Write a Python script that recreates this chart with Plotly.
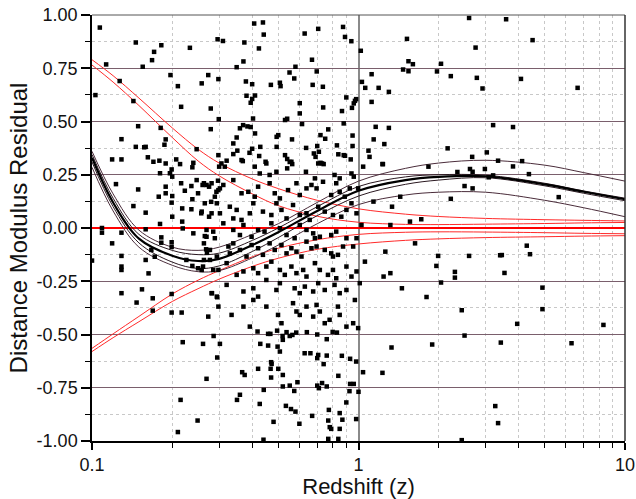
import plotly.graph_objects as go

# Supernova sample: (redshift z, distance modulus residual)
sn_points = [
    # low redshift, upper half
    (0.107, 0.941), (0.103, 0.624), (0.113, 0.768), (0.127, 0.69), (0.146, 0.871), (0.143, 0.596),
    (0.129, 0.417), (0.149, 0.478), (0.146, 0.381), (0.157, 0.379), (0.159, 0.381), (0.155, 0.757),
    (0.168, 0.788), (0.171, 0.827), (0.182, 0.858), (0.181, 0.47), (0.187, 0.391), (0.189, 0.416),
    (0.197, 0.718), (0.210, 0.666), (0.216, 0.569), (0.233, 0.846), (0.258, 0.679), (0.273, 0.718),
    (0.279, 0.561), (0.279, 0.464), (0.247, 0.37), (0.296, 0.886), (0.298, 0.699), (0.299, 0.511),
    (0.298, 0.342), (0.119, 0.322), (0.129, 0.322), (0.162, 0.332), (0.170, 0.311), (0.179, 0.316),
    (0.189, 0.303), (0.199, 0.275), (0.207, 0.322), (0.24, 0.306), (0.238, 0.285),
    # intermediate redshift, upper half
    (0.406, 0.96), (0.438, 0.965), (0.441, 0.908), (0.310, 0.878), (0.373, 0.871), (0.423, 0.843),
    (0.370, 0.782), (0.349, 0.755), (0.378, 0.688), (0.399, 0.675), (0.469, 0.672), (0.507, 0.682),
    (0.51, 0.666), (0.551, 0.730), (0.58, 0.757), (0.574, 0.702), (0.628, 0.913), (0.706, 0.935),
    (0.669, 0.79), (0.697, 0.735), (0.673, 0.672), (0.735, 0.663), (0.875, 0.944), (0.89, 0.897),
    (0.94, 0.877), (1.02, 0.832), (0.380, 0.621), (0.399, 0.606), (0.409, 0.622), (0.394, 0.588),
    (0.602, 0.586), (0.602, 0.538), (0.737, 0.566), (0.90, 0.613), (0.867, 0.549), (0.945, 0.564),
    (0.96, 0.585), (0.97, 0.597), (0.98, 0.605), (1.03, 0.686), (1.06, 0.658), (1.12, 0.722),
    (1.19, 0.658), (1.30, 0.639), (1.12, 0.592), (1.47, 0.744), (1.54, 0.736), (1.60, 0.769),
    (1.54, 0.783), (1.52, 0.888), (0.402, 0.514), (0.53, 0.507), (0.54, 0.513), (0.614, 0.488),
    (0.77, 0.463), (0.88, 0.491), (0.359, 0.468), (0.369, 0.483), (0.383, 0.477), (0.394, 0.474),
    (0.409, 0.444), (0.349, 0.425), (0.339, 0.397), (0.351, 0.363), (0.339, 0.347), (0.368, 0.314),
    (0.399, 0.372), (0.39, 0.353), (0.424, 0.338), (0.428, 0.381), (0.448, 0.311), (0.493, 0.428),
    (0.5, 0.436), (0.493, 0.381), (0.563, 0.416), (0.53, 0.342), (0.54, 0.324), (0.552, 0.31),
    (0.564, 0.30), (0.636, 0.376), (0.68, 0.35), (0.7, 0.385), (0.71, 0.358), (0.69, 0.334),
    (0.72, 0.306), (0.73, 0.303), (0.72, 0.436), (0.75, 0.419), (0.83, 0.388), (0.84, 0.346),
    (0.88, 0.342), (0.89, 0.339), (0.95, 0.434), (0.95, 0.385), (0.935, 0.322), (1.09, 0.363),
    (1.10, 0.334), (1.14, 0.416), (1.16, 0.475), (1.30, 0.47), (1.25, 0.394), (1.23, 0.30),
    (0.3, 0.288), (0.32, 0.316),
    # high redshift
    (2.6, 0.986), (3.58, 0.98), (4.5, 0.882), (2.75, 0.847), (2.04, 0.771), (1.97, 0.735),
    (2.22, 0.713), (2.78, 0.705), (2.92, 0.655), (4.07, 0.70), (6.64, 0.658), (3.2, 0.483),
    (3.8, 0.474), (2.16, 0.374), (2.67, 0.334), (3.03, 0.355), (3.34, 0.316), (4.11, 0.314),
    (3.8, 0.289), (1.83, 0.288), (2.62, 0.277), (2.98, 0.277), (2.35, 0.263), (2.68, 0.264),
    (4.36, 0.253), (3.08, 0.238), (3.2, 0.247), (2.5, 0.197), (2.68, 0.186), (2.22, 0.137),
    (5.64, 0.145), (1.72, 0.041), (1.99, -0.131), (1.96, -0.178), (2.04, -0.256), (2.6, -0.131),
    (2.3, -0.206), (2.3, -0.233), (3.4, -0.128), (3.45, -0.127), (3.53, -0.211), (4.28, -0.083),
    (4.4, -0.123), (4.9, -0.28), (4.9, -0.381), (1.8, -0.324), (2.44, -0.386), (3.94, -0.45),
    (8.3, -0.455), (1.89, -0.547), (2.5, -0.505), (3.42, -0.538), (6.3, -0.541), (3.26, -0.836),
    (3.34, -0.916), (2.44, -0.996),
    # intermediate redshift, lower half
    (0.286, -0.507), (0.261, -0.544), (0.302, -0.544), (0.295, -0.608), (0.269, -0.708),
    (0.418, -0.486), (0.458, -0.497), (0.467, -0.497), (0.495, -0.482), (0.519, -0.507),
    (0.537, -0.489), (0.565, -0.502), (0.584, -0.491), (0.64, -0.489), (0.70, -0.50), (0.80, -0.488),
    (0.83, -0.491), (0.428, -0.544), (0.458, -0.552), (0.497, -0.557), (0.507, -0.58), (0.52, -0.525),
    (0.552, -0.507), (0.628, -0.588), (0.66, -0.588), (0.70, -0.611), (0.706, -0.596), (0.76, -0.599),
    (0.76, -0.522), (0.866, -0.60), (0.93, -0.614), (0.98, -0.627), (0.366, -0.677), (0.374, -0.69),
    (0.42, -0.661), (0.47, -0.63), (0.472, -0.638), (0.468, -0.661), (0.47, -0.702), (0.5, -0.661),
    (0.52, -0.69), (0.59, -0.724), (0.70, -0.74), (0.71, -0.752), (0.73, -0.728), (0.76, -0.744),
    (0.74, -0.639), (0.84, -0.694), (0.93, -0.732), (0.96, -0.732), (1.04, -0.677), (0.925, -0.766),
    (1.0, -0.769), (1.23, -0.68), (1.33, -0.561), (0.35, -0.807), (0.359, -0.783), (0.426, -0.826),
    (0.441, -0.76), (0.48, -0.91), (0.52, -0.744), (0.552, -0.74), (0.574, -0.765), (0.534, -0.835),
    (0.558, -0.85), (0.58, -0.862), (0.60, -0.919), (0.67, -0.882), (0.774, -0.854), (0.77, -0.904),
    (0.78, -0.935), (0.79, -0.943), (0.85, -0.869), (0.87, -0.90), (0.85, -0.943), (0.90, -0.819),
    (0.98, -0.897), (0.84, -0.99), (0.77, -0.99), (0.44, -0.994),
    (0.219, -0.536), (0.215, -0.807), (0.249, -0.904), (0.21, -0.958),
    # low redshift, around zero
    (0.10, -0.153), (0.109, 0.0), (0.109, -0.022), (0.123, 0.206), (0.119, -0.072), (0.129, -0.022),
    (0.129, -0.131), (0.129, -0.181), (0.129, -0.197), (0.129, -0.306), (0.143, 0.103), (0.149, 0.181),
    (0.159, 0.072), (0.159, -0.006), (0.159, -0.15), (0.163, -0.213), (0.154, -0.288), (0.147, -0.35),
    (0.169, -0.33), (0.169, -0.388), (0.18, 0.019), (0.182, -0.044), (0.182, -0.069), (0.189, 0.194),
    (0.189, 0.163), (0.18, 0.257), (0.178, 0.147), (0.196, 0.257), (0.2, 0.241), (0.2, 0.15),
    (0.199, 0.119), (0.2, 0.053), (0.199, -0.067), (0.199, -0.089), (0.199, -0.31), (0.199, -0.397),
    (0.217, -0.397), (0.218, 0.092), (0.218, 0.03), (0.219, -0.002), (0.214, 0.30), (0.216, 0.21),
    (0.223, 0.175), (0.236, 0.197), (0.236, 0.088), (0.238, 0.135), (0.24, -0.025), (0.247, 0.225),
    (0.25, 0.163), (0.257, 0.069), (0.263, 0.21), (0.265, -0.038), (0.269, -0.009), (0.275, 0.194),
    (0.275, 0.053), (0.28, 0.123), (0.289, 0.147), (0.289, -0.048), (0.293, 0.17), (0.297, 0.222),
    (0.302, 0.186), (0.226, -0.15), (0.238, -0.178), (0.25, -0.189), (0.258, -0.197), (0.268, -0.1),
    (0.27, -0.116), (0.277, -0.15), (0.282, -0.306), (0.295, -0.325), (0.285, -0.197), (0.167, -0.103),
    (0.172, -0.135),
    # dense band, 0.25 < z < 1.7
    (0.306, 0.303), (0.315, 0.288), (0.364, 0.319), (0.408, 0.288), (0.426, 0.256), (0.451, 0.303),
    (0.464, 0.249), (0.492, 0.264), (0.540, 0.280), (0.560, 0.311), (0.635, 0.264), (0.686, 0.233),
    (0.706, 0.303), (0.740, 0.300), (0.813, 0.249), (0.850, 0.233), (0.941, 0.256), (0.960, 0.241),
    (1.041, 0.288), (1.235, 0.300),
    (0.260, 0.202), (0.269, 0.202), (0.281, 0.210), (0.298, 0.178), (0.311, 0.202), (0.339, 0.225),
    (0.364, 0.163), (0.386, 0.170), (0.408, 0.147), (0.420, 0.194), (0.464, 0.210), (0.485, 0.163),
    (0.507, 0.139), (0.544, 0.178), (0.585, 0.210), (0.602, 0.155), (0.638, 0.186), (0.666, 0.202),
    (0.696, 0.186), (0.736, 0.217), (0.790, 0.155), (0.825, 0.210), (0.850, 0.170), (0.888, 0.147),
    (0.927, 0.186), (0.997, 0.186), (1.138, 0.124), (1.336, 0.100), (1.434, 0.147),
    (0.265, 0.116), (0.258, 0.077), (0.281, 0.069), (0.294, 0.116), (0.302, 0.069), (0.329, 0.100),
    (0.339, 0.045), (0.349, 0.085), (0.364, 0.038), (0.391, 0.069), (0.403, 0.116), (0.438, 0.077),
    (0.471, 0.061), (0.492, 0.116), (0.514, 0.085), (0.537, 0.045), (0.568, 0.108), (0.602, 0.061),
    (0.638, 0.069), (0.656, 0.038), (0.706, 0.100), (0.747, 0.077), (0.802, 0.061), (0.862, 0.053),
    (0.901, 0.085), (0.941, 0.116), (0.983, 0.069),
    (0.285, -0.017), (0.269, -0.041), (0.311, 0.022), (0.339, -0.009), (0.359, -0.033), (0.370, 0.014),
    (0.397, -0.041), (0.420, -0.009), (0.444, -0.017), (0.471, 0.022), (0.507, -0.001), (0.537, -0.033),
    (0.576, -0.048), (0.602, 0.014), (0.638, -0.009), (0.676, -0.025), (0.686, -0.048), (0.716, -0.041),
    (0.790, -0.033), (0.825, -0.017), (0.901, -0.048), (0.983, -0.048), (1.026, 0.014), (1.317, 0.014),
    (1.56, 0.030), (1.63, -0.072),
    (0.263, -0.072), (0.277, -0.103), (0.294, -0.134), (0.325, -0.087), (0.329, -0.119), (0.339, -0.072),
    (0.359, -0.103), (0.380, -0.134), (0.397, -0.080), (0.420, -0.095), (0.438, -0.126), (0.464, -0.072),
    (0.485, -0.103), (0.514, -0.080), (0.537, -0.119), (0.560, -0.095), (0.585, -0.111), (0.611, -0.134),
    (0.638, -0.064), (0.666, -0.095), (0.696, -0.087), (0.747, -0.103), (0.790, -0.119), (0.802, -0.134),
    (0.837, -0.126), (0.875, -0.087), (0.955, -0.087), (1.057, -0.158), (1.261, -0.111), (1.317, -0.212),
    (0.261, -0.181), (0.263, -0.150), (0.298, -0.197), (0.320, -0.165), (0.349, -0.220), (0.370, -0.204),
    (0.403, -0.189), (0.420, -0.212), (0.451, -0.181), (0.471, -0.158), (0.507, -0.197), (0.529, -0.220),
    (0.560, -0.181), (0.585, -0.212), (0.620, -0.197), (0.638, -0.228), (0.686, -0.165), (0.716, -0.197),
    (0.768, -0.220), (0.802, -0.197), (0.825, -0.236), (0.901, -0.181), (0.941, -0.228), (0.983, -0.204),
    (1.242, -0.228),
    (0.281, -0.306), (0.294, -0.322), (0.320, -0.267), (0.370, -0.298), (0.403, -0.283), (0.420, -0.322),
    (0.451, -0.244), (0.492, -0.291), (0.507, -0.259), (0.576, -0.283), (0.602, -0.306), (0.629, -0.275),
    (0.676, -0.298), (0.706, -0.259), (0.747, -0.291), (0.813, -0.267), (0.850, -0.306), (0.901, -0.291),
    (1.011, -0.259), (1.455, -0.283),
    (0.273, -0.416), (0.298, -0.369), (0.334, -0.408), (0.370, -0.369), (0.391, -0.463), (0.403, -0.338),
    (0.451, -0.369), (0.499, -0.408), (0.514, -0.447), (0.568, -0.353), (0.585, -0.392), (0.602, -0.408),
    (0.638, -0.369), (0.676, -0.416), (0.696, -0.361), (0.716, -0.392), (0.747, -0.447), (0.779, -0.431),
    (0.837, -0.369), (0.850, -0.408), (0.901, -0.463), (0.955, -0.447), (0.997, -0.470), (0.969, -0.338),
]
z_obs = [p[0] for p in sn_points]
mu_res = [p[1] for p in sn_points]

# Model curves, sampled at these redshifts
z_knots = [0.1, 0.12, 0.15, 0.2, 0.25, 0.3, 0.4, 0.5, 0.7, 1.0, 1.5, 2.0, 3.0, 5.0, 7.0, 10.0]

fit_best = [0.33, 0.12, -0.05, -0.13, -0.155, -0.145, -0.08, -0.02, 0.08, 0.175, 0.225, 0.24, 0.243, 0.205, 0.17, 0.135]
fit_inner_hi = [0.345, 0.14, -0.03, -0.105, -0.125, -0.118, -0.058, 0.0, 0.1, 0.195, 0.24, 0.25, 0.248, 0.21, 0.174, 0.14]
fit_inner_lo = [0.31, 0.1, -0.07, -0.16, -0.19, -0.178, -0.11, -0.045, 0.058, 0.15, 0.205, 0.225, 0.236, 0.198, 0.163, 0.128]
fit_outer_hi = [0.36, 0.16, -0.01, -0.09, -0.105, -0.09, -0.03, 0.02, 0.12, 0.22, 0.28, 0.305, 0.318, 0.295, 0.26, 0.22]
fit_outer_lo = [0.285, 0.08, -0.09, -0.175, -0.205, -0.2, -0.14, -0.08, 0.02, 0.11, 0.155, 0.168, 0.168, 0.13, 0.095, 0.053]

alt_hi_a = [0.79, 0.715, 0.61, 0.47, 0.37, 0.305, 0.23, 0.185, 0.13, 0.09, 0.065, 0.054, 0.045, 0.039, 0.036, 0.033]
alt_hi_b = [0.765, 0.685, 0.575, 0.425, 0.315, 0.245, 0.16, 0.105, 0.055, 0.027, 0.017, 0.016, 0.018, 0.021, 0.024, 0.026]
alt_lo_a = [-0.58, -0.515, -0.44, -0.345, -0.285, -0.24, -0.18, -0.142, -0.1, -0.075, -0.058, -0.051, -0.045, -0.041, -0.038, -0.036]
alt_lo_b = [-0.565, -0.497, -0.415, -0.31, -0.245, -0.2, -0.135, -0.095, -0.055, -0.03, -0.02, -0.018, -0.019, -0.022, -0.025, -0.027]

y_ticks = [-1.0, -0.75, -0.5, -0.25, 0.0, 0.25, 0.5, 0.75, 1.0]
y_ticktext = ["-1.00", "-0.75", "-0.50", "-0.25", "0.00", "0.25", "0.50", "0.75", "1.00"]
x_ticks = [0.1, 1, 10]
x_ticktext = ["0.1", "1", "10"]

fig = go.Figure()

red = "#ff2a2a"
for ys in (alt_hi_a, alt_hi_b, alt_lo_a, alt_lo_b):
    fig.add_trace(go.Scatter(x=z_knots, y=ys, mode="lines",
                             line=dict(color=red, width=1, shape="spline", smoothing=1.0),
                             hoverinfo="skip", showlegend=False))

for ys, col, w in ((fit_outer_hi, "#4a2c3a", 1), (fit_outer_lo, "#4a2c3a", 1),
                   (fit_inner_hi, "#2a1820", 1), (fit_inner_lo, "#2a1820", 1),
                   (fit_best, "#000000", 2.2)):
    fig.add_trace(go.Scatter(x=z_knots, y=ys, mode="lines",
                             line=dict(color=col, width=w, shape="spline", smoothing=1.0),
                             hoverinfo="skip", showlegend=False))

fig.add_trace(go.Scatter(x=z_obs, y=mu_res, mode="markers",
                         marker=dict(symbol="square", size=4.5, color="black", line=dict(width=0)),
                         showlegend=False))

font = "Liberation Sans, Arial, sans-serif"
fig.update_layout(
    width=636, height=499,
    margin=dict(l=92, r=11, t=15, b=58, autoexpand=False),
    paper_bgcolor="white", plot_bgcolor="white",
    font=dict(family=font, color="#111111"),
    showlegend=False,
    xaxis=dict(
        type="log", range=[-1, 1], automargin=False,
        tickmode="array", tickvals=x_ticks, ticktext=x_ticktext,
        tickfont=dict(size=18), ticks="outside", ticklen=7, tickwidth=1.5, tickcolor="black",
        showline=True, linecolor="black", linewidth=1.5,
        showgrid=True, gridcolor="#8a8a8a", gridwidth=1.5,
        minor=dict(dtick="D1", ticks="outside", ticklen=5, tickwidth=1, tickcolor="black",
                   showgrid=True, gridcolor="#c8c8c8", griddash="dot", gridwidth=1),
        zeroline=False,
        title=dict(text="Redshift (z)", font=dict(size=22), standoff=3),
    ),
    yaxis=dict(
        range=[-1, 1], automargin=False,
        tickmode="array", tickvals=y_ticks, ticktext=y_ticktext,
        tickfont=dict(size=18), ticks="outside", ticklen=9, tickwidth=1.5, tickcolor="black",
        showline=True, linecolor="black", linewidth=1.5,
        showgrid=True, gridcolor="#7a5f6c", gridwidth=1,
        minor=dict(dtick=0.125, tick0=0, ticks="outside", ticklen=5, tickwidth=1, tickcolor="black",
                   showgrid=True, gridcolor="#c8c8c8", griddash="dot", gridwidth=1),
        zeroline=True, zerolinecolor="#ff0000", zerolinewidth=2,
        title=dict(text="Distance Modulus Residual", font=dict(size=24), standoff=2),
    ),
    shapes=[
        dict(type="line", xref="x domain", yref="y domain", x0=0, x1=1, y0=1, y1=1,
             line=dict(color="#555555", width=1), layer="above"),
        dict(type="line", xref="x domain", yref="y domain", x0=1, x1=1, y0=0, y1=1,
             line=dict(color="#333333", width=1.5), layer="above"),
    ],
)

fig.write_html("out.html")
